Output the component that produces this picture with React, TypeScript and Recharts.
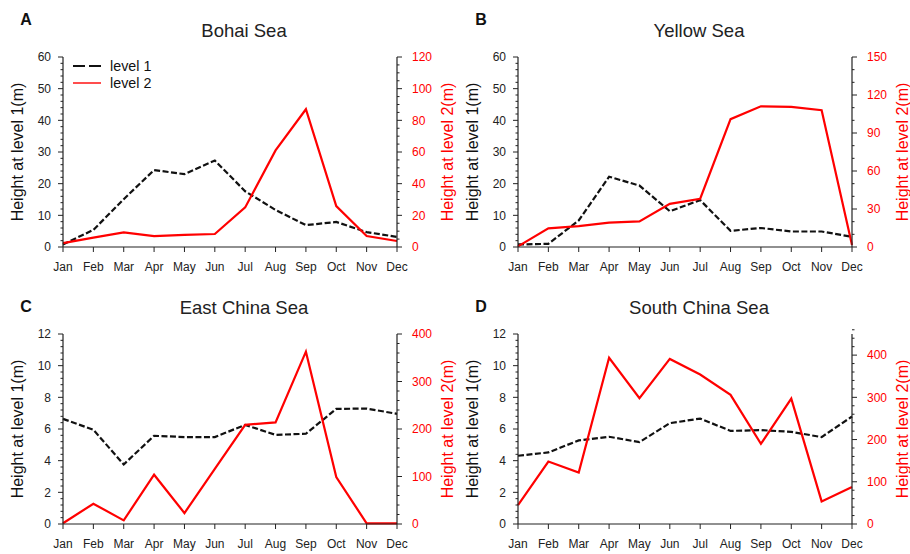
import React from 'react';
import { LineChart, Line, XAxis, YAxis, Legend } from 'recharts';

const months = ['Jan', 'Feb', 'Mar', 'Apr', 'May', 'Jun', 'Jul', 'Aug', 'Sep', 'Oct', 'Nov', 'Dec'];

const bohaiLevel1 = [0.8, 5.4, 15.1, 24.3, 23.0, 27.3, 17.6, 11.7, 6.9, 7.9, 4.7, 3.2];
const bohaiLevel2 = [2.5, 5.9, 9.2, 6.9, 7.6, 8.2, 25, 61, 87, 25.8, 6.9, 3.8];
const yellowLevel1 = [0.8, 1.0, 8.4, 22.2, 19.4, 11.3, 14.8, 5.1, 6.0, 4.9, 4.9, 3.2];
const yellowLevel2 = [0.5, 14.7, 16.5, 19.2, 20.2, 34.1, 38.1, 100.9, 111.1, 110.6, 108, 1.6];
const eastLevel1 = [6.64, 5.95, 3.76, 5.57, 5.49, 5.49, 6.26, 5.63, 5.7, 7.27, 7.29, 6.96];
const eastLevel2 = [1.5, 42.7, 7.7, 103.7, 23, 116, 208.8, 214, 362.9, 98.8, 1.4, 1.4];
const southLevel1 = [4.31, 4.52, 5.28, 5.51, 5.17, 6.37, 6.66, 5.88, 5.93, 5.82, 5.49, 6.79];
const southLevel2 = [44.9, 148, 122, 393.7, 298, 391, 354, 306, 190, 297, 53.5, 87.4];

const leftTicks60 = [0, 10, 20, 30, 40, 50, 60];
const leftTicks12 = [0, 2, 4, 6, 8, 10, 12];
const bohaiRightTicks = [0, 20, 40, 60, 80, 100, 120];
const yellowRightTicks = [0, 30, 60, 90, 120, 150];
const eastRightTicks = [0, 100, 200, 300, 400];
const southRightTicks = [0, 100, 200, 300, 400];

const FONT = '"Liberation Sans", Arial, Helvetica, sans-serif';
const AXIS = '#222';
const RED = '#ff0000';

function withMinor(max: number, step: number, majors: number[]) {
  const out: number[] = [...majors];
  const n = Math.round(max / step);
  for (let k = 0; k <= n; k++) {
    const v = Math.round(k * step * 1000) / 1000;
    if (!majors.some((m) => Math.abs(m - v) < 1e-6)) out.push(v);
  }
  return out.sort((a, b) => a - b);
}
const isMajor = (v: number, majors: number[]) => majors.some((m) => Math.abs(m - v) < 1e-6);

const LeftTick = (props: any) => {
  const { x, y, payload, majors } = props;
  const major = isMajor(payload.value, majors);
  return (
    <g>
      <line x1={x} x2={x - (major ? 5 : 2.5)} y1={y} y2={y} stroke={AXIS} strokeWidth={1} />
      {major && (
        <text x={x - 12} y={y} dy="0.36em" textAnchor="end" fontSize={12} fill="#222" fontFamily={FONT}>
          {payload.value}
        </text>
      )}
    </g>
  );
};

const RightTick = (props: any) => {
  const { x, y, payload, majors } = props;
  const major = isMajor(payload.value, majors);
  return (
    <g>
      <line x1={x} x2={x + (major ? 5 : 2.5)} y1={y} y2={y} stroke={AXIS} strokeWidth={1} />
      {major && (
        <text x={x + 15} y={y} dy="0.36em" textAnchor="start" fontSize={12} fill={RED} fontFamily={FONT}>
          {payload.value}
        </text>
      )}
    </g>
  );
};

const BottomTick = (props: any) => {
  const { x, y, payload } = props;
  return (
    <g>
      <line x1={x} x2={x} y1={y} y2={y + 5} stroke={AXIS} strokeWidth={1} />
      <text x={x} y={y + 20} dy="0.36em" textAnchor="middle" fontSize={12} fill="#222" fontFamily={FONT}>
        {payload.value}
      </text>
    </g>
  );
};

const TopTick = (props: any) => {
  const { x, y } = props;
  return <line x1={x} x2={x} y1={y} y2={y - 5} stroke={AXIS} strokeWidth={1} />;
};

const DASH = '6 2.5';

const LegendBox = (props: any) => {
  const { payload } = props;
  return (
    <div style={{ fontFamily: FONT, fontSize: 14.3, color: '#111' }}>
      {(payload || []).map((entry: any) => (
        <div key={entry.value} style={{ display: 'flex', alignItems: 'center', height: 16.5 }}>
          <svg width={28} height={8} style={{ display: 'block' }}>
            <line
              x1={0}
              x2={28}
              y1={4}
              y2={4}
              stroke={entry.color}
              strokeWidth={entry.dataKey === 'level1' ? 2 : 1.4}
              strokeDasharray={entry.dataKey === 'level1' ? '12 4' : undefined}
            />
          </svg>
          <span style={{ marginLeft: 9, lineHeight: '16px' }}>{entry.value}</span>
        </div>
      ))}
    </div>
  );
};

type PanelProps = {
  letter: string;
  title: string;
  level1: number[];
  level2: number[];
  leftMajors: number[];
  leftMax: number;
  leftStep: number;
  rightMajors: number[];
  rightMax: number;
  rightStep: number;
  left: number;
  top: number;
  letterY: number;
  showLegend?: boolean;
};

const Panel = (p: PanelProps) => {
  const data = months.map((m, i) => ({ month: m, level1: p.level1[i], level2: p.level2[i] }));
  const leftAll = withMinor(p.leftMax, p.leftStep, p.leftMajors);
  const rightAll = withMinor(p.rightMax, p.rightStep, p.rightMajors);
  return (
    <div style={{ position: 'absolute', left: p.left, top: p.top, width: 455, height: 277 }}>
      <LineChart width={455} height={277} data={data} margin={{ top: 57, right: 0, bottom: 0, left: 0 }}>
        <XAxis
          dataKey="month"
          xAxisId={0}
          scale="point"
          padding={{ left: 0, right: 0 }}
          height={30}
          interval={0}
          tickSize={0}
          tickMargin={0}
          tickLine={false}
          axisLine={{ stroke: AXIS, strokeWidth: 1.2 }}
          tick={(t: any) => <BottomTick {...t} />}
        />
        <XAxis
          dataKey="month"
          xAxisId="top"
          orientation="top"
          scale="point"
          padding={{ left: 0, right: 0 }}
          height={0}
          interval={0}
          tickSize={0}
          tickMargin={0}
          tickLine={false}
          axisLine={{ stroke: AXIS, strokeWidth: 1.2 }}
          tick={(t: any) => <TopTick {...t} />}
        />
        <YAxis
          yAxisId="l"
          orientation="left"
          type="number"
          domain={[0, p.leftMax]}
          ticks={leftAll}
          interval={0}
          width={63}
          tickSize={0}
          tickMargin={0}
          tickLine={false}
          axisLine={{ stroke: AXIS, strokeWidth: 1.2 }}
          tick={(t: any) => <LeftTick {...t} majors={p.leftMajors} />}
        />
        <YAxis
          yAxisId="r"
          orientation="right"
          type="number"
          domain={[0, p.rightMax]}
          ticks={rightAll}
          interval={0}
          width={58}
          tickSize={0}
          tickMargin={0}
          tickLine={false}
          axisLine={{ stroke: AXIS, strokeWidth: 1.2 }}
          tick={(t: any) => <RightTick {...t} majors={p.rightMajors} />}
        />
        <Line
          yAxisId="l"
          dataKey="level1"
          name="level 1"
          stroke="#111"
          strokeWidth={2.2}
          strokeDasharray={DASH}
          dot={false}
          activeDot={false}
          isAnimationActive={false}
        />
        <Line
          yAxisId="r"
          dataKey="level2"
          name="level 2"
          stroke={RED}
          strokeWidth={2.2}
          dot={false}
          activeDot={false}
          isAnimationActive={false}
        />
        {p.showLegend && (
          <Legend
            layout="vertical"
            align="center"
            verticalAlign="middle"
            content={(lp: any) => <LegendBox {...lp} />}
            wrapperStyle={{ position: 'absolute', left: 73, top: 58, width: 'auto', height: 'auto' }}
          />
        )}
      </LineChart>
      <div
        style={{
          position: 'absolute',
          left: 26,
          top: p.letterY,
          transform: 'translate(-50%, -50%)',
          fontFamily: FONT,
          fontWeight: 'bold',
          fontSize: 16,
          color: '#111',
          whiteSpace: 'nowrap',
        }}
      >
        {p.letter}
      </div>
      <div
        style={{
          position: 'absolute',
          left: 244,
          top: 31,
          transform: 'translate(-50%, -50%)',
          fontFamily: FONT,
          fontSize: 18.5,
          color: '#222',
          whiteSpace: 'nowrap',
        }}
      >
        {p.title}
      </div>
      <div
        style={{
          position: 'absolute',
          left: 18,
          top: 152,
          transform: 'translate(-50%, -50%) rotate(-90deg)',
          fontFamily: FONT,
          fontSize: 16,
          color: '#111',
          whiteSpace: 'nowrap',
        }}
      >
        Height at level 1(m)
      </div>
      <div
        style={{
          position: 'absolute',
          left: 448,
          top: 152,
          transform: 'translate(-50%, -50%) rotate(-90deg)',
          fontFamily: FONT,
          fontSize: 16,
          color: RED,
          whiteSpace: 'nowrap',
        }}
      >
        Height at level 2(m)
      </div>
    </div>
  );
};

export default function App() {
  return (
    <div style={{ position: 'absolute', left: 0, top: 0, width: 910, height: 554, background: '#fff', overflow: 'hidden' }}>
      <Panel
        letter="A"
        title="Bohai Sea"
        level1={bohaiLevel1}
        level2={bohaiLevel2}
        leftMajors={leftTicks60}
        leftMax={60}
        leftStep={2}
        rightMajors={bohaiRightTicks}
        rightMax={120}
        rightStep={5}
        left={0}
        top={0}
        letterY={20}
        showLegend
      />
      <Panel
        letter="B"
        title="Yellow Sea"
        level1={yellowLevel1}
        level2={yellowLevel2}
        leftMajors={leftTicks60}
        leftMax={60}
        leftStep={2}
        rightMajors={yellowRightTicks}
        rightMax={150}
        rightStep={10}
        left={455}
        top={0}
        letterY={20}
      />
      <Panel
        letter="C"
        title="East China Sea"
        level1={eastLevel1}
        level2={eastLevel2}
        leftMajors={leftTicks12}
        leftMax={12}
        leftStep={0.4}
        rightMajors={eastRightTicks}
        rightMax={400}
        rightStep={20}
        left={0}
        top={277}
        letterY={30}
      />
      <Panel
        letter="D"
        title="South China Sea"
        level1={southLevel1}
        level2={southLevel2}
        leftMajors={leftTicks12}
        leftMax={12}
        leftStep={0.4}
        rightMajors={southRightTicks}
        rightMax={450}
        rightStep={20}
        left={455}
        top={277}
        letterY={30}
      />
    </div>
  );
}
